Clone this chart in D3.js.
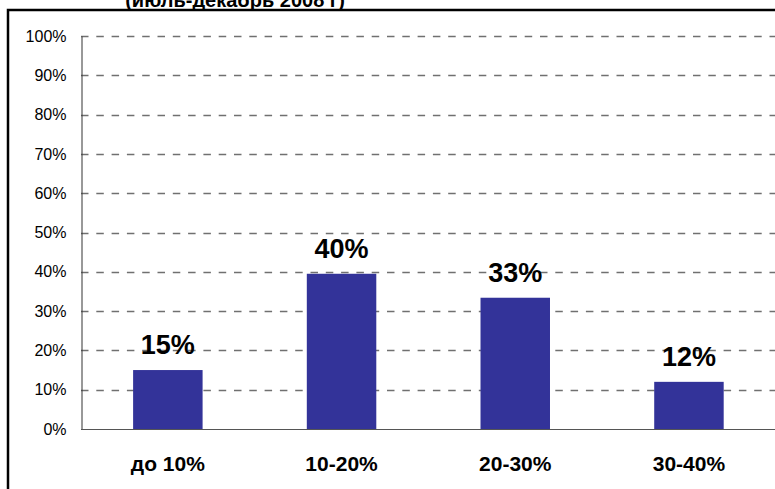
<!DOCTYPE html>
<html>
<head>
<meta charset="utf-8">
<script src="https://cdn.jsdelivr.net/npm/d3@7/dist/d3.min.js"></script>
<style>
  html, body { margin: 0; padding: 0; background: #fff; }
  svg { display: block; }
</style>
</head>
<body>
<svg id="chart" width="775" height="489"></svg>
<script>
const titleText = "(июль-декабрь 2008 г)";
const categories = ["до 10%", "10-20%", "20-30%", "30-40%"];
const values = [15, 39.5, 33.4, 12];
const valueLabels = ["15%", "40%", "33%", "12%"];
const yTicks = [0, 10, 20, 30, 40, 50, 60, 70, 80, 90, 100];

const svg = d3.select("#chart");
const W = 775, H = 489;
const margin = { left: 81, right: 0, top: 36, bottom: 60 };
const plotBottom = 429;

svg.append("rect").attr("width", W).attr("height", H).attr("fill", "#fff");

// frame
svg.append("path")
  .attr("d", `M8,${H + 5} L8,10 L${W + 5},10`)
  .attr("fill", "none").attr("stroke", "#000").attr("stroke-width", 2.5);

// title (cut off at top, as in the reference)
svg.append("text")
  .attr("x", 235).attr("y", 7)
  .attr("text-anchor", "middle")
  .attr("font-family", "Liberation Sans, Arial, sans-serif")
  .attr("font-weight", "bold").attr("font-size", 20)
  .text(titleText);

const x = d3.scaleBand().domain(categories)
  .range([margin.left, margin.left + 4 * 173.7])
  .paddingInner(0.6).paddingOuter(0.3);
const y = d3.scaleLinear().domain([0, 100]).range([plotBottom, margin.top]);

// gridlines
svg.append("g").selectAll("line")
  .data(yTicks.filter(d => d > 0))
  .join("line")
  .attr("x1", margin.left).attr("x2", W)
  .attr("y1", d => Math.round(y(d)) + 0.5).attr("y2", d => Math.round(y(d)) + 0.5)
  .attr("stroke", "#707070").attr("stroke-width", 1.5)
  .attr("stroke-dasharray", "7.5,7.8");

// y axis
const yAxis = d3.axisLeft(y).tickValues(yTicks).tickSize(0).tickPadding(15)
  .tickFormat(d => d + "%");
const gy = svg.append("g").attr("transform", `translate(${margin.left + 0.5},0)`).call(yAxis);
gy.select(".domain").attr("stroke", "#333").attr("stroke-width", 1);
gy.selectAll("text")
  .attr("font-family", "Liberation Sans, Arial, sans-serif")
  .attr("font-size", 16).attr("fill", "#000");

// bars
svg.append("g").selectAll("rect")
  .data(values)
  .join("rect")
  .attr("x", (d, i) => x(categories[i]))
  .attr("width", x.bandwidth())
  .attr("y", d => y(d))
  .attr("height", d => plotBottom - y(d))
  .attr("fill", "#333399");

// x axis line
svg.append("line")
  .attr("x1", margin.left).attr("x2", W)
  .attr("y1", plotBottom + 0.5).attr("y2", plotBottom + 0.5)
  .attr("stroke", "#555").attr("stroke-width", 1.2);

// category labels
const xAxis = d3.axisBottom(x).tickSize(0).tickPadding(0);
const gx = svg.append("g").attr("transform", `translate(0,${plotBottom})`).call(xAxis);
gx.select(".domain").remove();
gx.selectAll("text")
  .attr("dy", null).attr("y", 42)
  .attr("font-family", "Liberation Sans, Arial, sans-serif")
  .attr("font-weight", "bold").attr("font-size", 21).attr("fill", "#000");

// value labels
svg.append("g").selectAll("text")
  .data(values)
  .join("text")
  .attr("x", (d, i) => x(categories[i]) + x.bandwidth() / 2)
  .attr("y", d => y(d) - 16)
  .attr("text-anchor", "middle")
  .attr("font-family", "Liberation Sans, Arial, sans-serif")
  .attr("font-weight", "bold").attr("font-size", 27).attr("fill", "#000")
  .text((d, i) => valueLabels[i]);
</script>
</body>
</html>
